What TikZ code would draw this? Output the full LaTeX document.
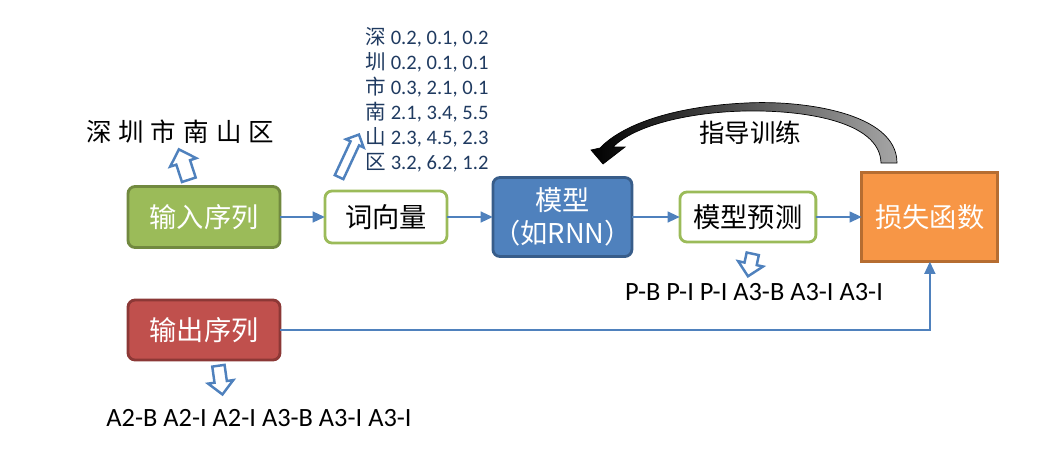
\documentclass[tikz,border=0pt]{standalone}
\usepackage{fontspec}
\setmainfont{Carlito}
\newfontfamily\cjk{Noto Sans CJK SC}
\usetikzlibrary{shapes.arrows, arrows.meta, positioning}
\definecolor{seqgreen}{HTML}{9BBB59}
\definecolor{seqgreendark}{HTML}{71893F}
\definecolor{modelblue}{HTML}{4F81BD}
\definecolor{modelbluedark}{HTML}{385D8A}
\definecolor{lossorange}{HTML}{F79646}
\definecolor{lossorangedark}{HTML}{B66D31}
\definecolor{seqred}{HTML}{C0504D}
\definecolor{seqreddark}{HTML}{8C3836}
\definecolor{vecblue}{HTML}{1F3A60}
\tikzstyle{block} = [rectangle, draw, line width=1.6pt, outer sep=0pt, text centered, rounded corners=4pt, font=\cjk\fontsize{15.5}{19}\selectfont]
\tikzstyle{seqbox} = [block, text=white, minimum width=3.04cm]
\tikzstyle{plainbox} = [block, draw=seqgreen, fill=white]
\tikzstyle{arrow} = [line width=1.5pt, draw=modelblue, ->, >={Triangle[length=7pt,width=6pt]}]
\tikzstyle{hollow} = [single arrow, draw=modelblue, fill=white, line width=1.4pt, inner xsep=0pt, inner ysep=0.12cm, single arrow head extend=0.13cm]
\tikzstyle{tags} = [font=\fontsize{15}{18}\selectfont]

\begin{document}
\begin{tikzpicture}[x=0.02cm, y=-0.02cm]
    \useasboundingbox (0,0) rectangle (1054,460);

    % Main row
    \node (input) [seqbox, fill=seqgreen, draw=seqgreendark, minimum height=1.22cm] at (204,217) {输入序列};
    \node (embed) [plainbox, right=0.9cm of input, minimum width=2.44cm, minimum height=1.04cm] {词向量};
    \node (model) [block, right=0.92cm of embed, fill=modelblue, draw=modelbluedark, text=white, align=center, inner xsep=0pt, minimum width=2.78cm, minimum height=1.58cm] {模型\\（如RNN）};
    \node (predict) [plainbox, right=0.96cm of model, minimum width=2.72cm, minimum height=1cm] {模型预测};
    \node (loss) [block, right=0.92cm of predict, fill=lossorange, draw=lossorangedark, text=white, rounded corners=0pt, minimum width=2.72cm, minimum height=1.78cm] {损失函数};

    % Target row
    \node (output) [seqbox, fill=seqred, draw=seqreddark, minimum height=1.2cm] at (204,330) {输出序列};

    % Texts
    \node (chars) [font=\cjk\fontsize{14.5}{17}\selectfont] at (180,132) {深\kern4pt 圳\kern4pt 市\kern4pt 南\kern4pt 山\kern4pt 区};
    \node (vectors) [align=left, text=vecblue, font=\fontsize{11.7}{14.2}\selectfont] at (427,100) {{\cjk 深} 0.2, 0.1, 0.2\\{\cjk 圳} 0.2, 0.1, 0.1\\{\cjk 市} 0.3, 2.1, 0.1\\{\cjk 南} 2.1, 3.4, 5.5\\{\cjk 山} 2.3, 4.5, 2.3\\{\cjk 区} 3.2, 6.2, 1.2};
    \node (predtags) [tags] at (754,292) {P-B P-I P-I A3-B A3-I A3-I};
    \node (outtags) [tags] at (259,418) {A2-B A2-I A2-I A3-B A3-I A3-I};
    \node (guide) [font=\cjk\fontsize{14.5}{17}\selectfont] at (750,133) {指导训练};

    % Hollow pointers
    \node (inputup) [hollow, rotate=108, minimum height=0.64cm] at (185,168) {};
    \node (embedup) [hollow, rotate=65, inner ysep=0.07cm, single arrow head extend=0.1cm, minimum height=0.94cm] at (348,158) {};
    \node (predictdown) [hollow, rotate=258, inner ysep=0.1cm, minimum height=0.46cm] at (751,262) {};
    \node (outputdown) [hollow, rotate=-82, inner ysep=0.1cm, minimum height=0.58cm] at (220,377) {};

    % Feedback arrow
    \shade[left color=black, right color=gray!70, draw=black, line width=0.4pt]
        (897,163) .. controls (897,112) and (800,100) .. (746,103)
        .. controls (680,106) and (625,122) .. (600,148)
        -- (591,150) -- (603,164) -- (625,147) -- (613,147)
        .. controls (635,125) and (690,112) .. (746,111)
        .. controls (800,110) and (880,120) .. (881,163) -- cycle;

    % ==== Arrows
    \draw [arrow] (input) -- (embed);
    \draw [arrow] (embed) -- (model);
    \draw [arrow] (model) -- (predict);
    \draw [arrow] (predict) -- (loss);
    \draw [arrow] (output) -| (loss);

\end{tikzpicture}
\end{document}
